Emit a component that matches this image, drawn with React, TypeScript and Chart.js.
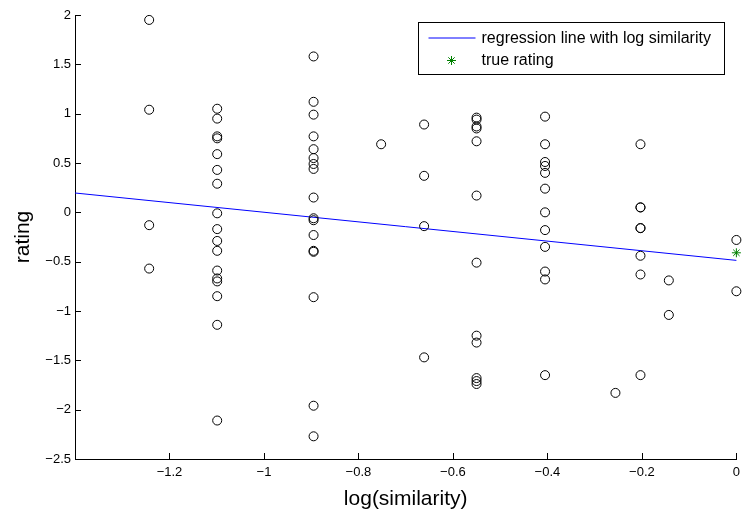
import { useEffect, useRef } from 'react';
import { Chart, registerables } from 'chart.js';

Chart.register(...registerables);

const FONT = '"Liberation Sans", Arial, Helvetica, sans-serif';

// log(similarity) levels (x) and the ratings observed at each level (y)
const LOG_SIM = [-1.243, -1.099, -0.895, -0.752, -0.661, -0.55, -0.405, -0.256, -0.203, -0.143, 0];
const RATINGS_1 = [1.95, 1.04, -0.13, -0.57];
const RATINGS_2 = [1.05, 0.95, 0.77, 0.75, 0.59, 0.43, 0.29, -0.01, -0.17, -0.29, -0.39, -0.59, -0.67, -0.7, -0.85, -1.14, -2.11];
const RATINGS_3 = [1.58, 1.12, 0.99, 0.77, 0.64, 0.55, 0.49, 0.44, 0.15, -0.06, -0.08, -0.23, -0.39, -0.4, -0.86, -1.96, -2.27];
const RATINGS_4 = [0.69];
const RATINGS_5 = [0.89, 0.37, -0.14, -1.47];
const RATINGS_6 = [0.96, 0.94, 0.87, 0.85, 0.72, 0.17, -0.51, -1.25, -1.32, -1.68, -1.71, -1.74];
const RATINGS_7 = [0.97, 0.69, 0.51, 0.47, 0.4, 0.24, 0.0, -0.18, -0.35, -0.6, -0.68, -1.65];
const RATINGS_8 = [-1.83];
const RATINGS_9 = [0.69, 0.05, 0.05, -0.16, -0.16, -0.44, -0.63, -1.65];
const RATINGS_10 = [-0.69, -1.04];
const RATINGS_11 = [-0.28, -0.8];
const RATINGS = [RATINGS_1, RATINGS_2, RATINGS_3, RATINGS_4, RATINGS_5, RATINGS_6, RATINGS_7, RATINGS_8, RATINGS_9, RATINGS_10, RATINGS_11];

const REG_X = [-1.4, 0];
const REG_Y = [0.196, -0.487];
const TRUE_X = [0];
const TRUE_Y = [-0.41];

const X_TICKS = [-1.2, -1, -0.8, -0.6, -0.4, -0.2, 0];
const Y_TICKS = [-2.5, -2, -1.5, -1, -0.5, 0, 0.5, 1, 1.5, 2];
const LEGEND_LABELS = ['regression line with log similarity', 'true rating'];

const fmt = (v: number) => {
  const r = Math.round(v * 10) / 10;
  return (r < 0 ? '\u2212' : '') + String(Math.abs(r));
};

const matlabPlugin = {
  id: 'matlabDecor',
  afterDraw(chart: any) {
    const { ctx, chartArea: a, scales } = chart;
    const x = scales.x;
    const y = scales.y;
    ctx.save();
    ctx.strokeStyle = '#000';
    ctx.lineWidth = 1;
    ctx.beginPath();
    X_TICKS.forEach((v) => {
      const px = Math.round(x.getPixelForValue(v)) + 0.5;
      ctx.moveTo(px, a.bottom);
      ctx.lineTo(px, a.bottom - 6);
    });
    Y_TICKS.forEach((v) => {
      const py = Math.round(y.getPixelForValue(v)) + 0.5;
      ctx.moveTo(a.left, py);
      ctx.lineTo(a.left + 6, py);
    });
    ctx.stroke();

    // legend
    ctx.font = '16px ' + FONT;
    const tw = Math.max(...LEGEND_LABELS.map((t) => ctx.measureText(t).width));
    const w = Math.round(63 + tw + 14);
    const h = 52;
    const right = Math.round(a.right - 12);
    const left = right - w + 0.5;
    const top = Math.round(a.top + 7) + 0.5;
    ctx.fillStyle = '#fff';
    ctx.fillRect(left, top, w, h);
    ctx.strokeStyle = '#000';
    ctx.strokeRect(left, top, w, h);
    ctx.strokeStyle = '#0000ff';
    ctx.beginPath();
    ctx.moveTo(left + 10, top + 15.5);
    ctx.lineTo(left + 57, top + 15.5);
    ctx.stroke();
    const sx = left + 33;
    const sy = top + 38;
    const r = 4.5;
    const d = r * Math.SQRT1_2;
    ctx.strokeStyle = '#008000';
    ctx.beginPath();
    ctx.moveTo(sx - r, sy); ctx.lineTo(sx + r, sy);
    ctx.moveTo(sx, sy - r); ctx.lineTo(sx, sy + r);
    ctx.moveTo(sx - d, sy - d); ctx.lineTo(sx + d, sy + d);
    ctx.moveTo(sx - d, sy + d); ctx.lineTo(sx + d, sy - d);
    ctx.stroke();
    ctx.fillStyle = '#000';
    ctx.textAlign = 'left';
    ctx.textBaseline = 'middle';
    ctx.fillText(LEGEND_LABELS[0], left + 63, top + 16);
    ctx.fillText(LEGEND_LABELS[1], left + 63, top + 38);
    ctx.restore();
  },
};

export default function App() {
  const canvasRef = useRef<HTMLCanvasElement | null>(null);

  useEffect(() => {
    if (!canvasRef.current) return;
    const points = LOG_SIM.flatMap((xv, i) => RATINGS[i].map((yv) => ({ x: xv, y: yv })));
    const regression = REG_X.map((xv, i) => ({ x: xv, y: REG_Y[i] }));
    const truth = TRUE_X.map((xv, i) => ({ x: xv, y: TRUE_Y[i] }));

    const chart = new Chart(canvasRef.current, {
      type: 'scatter',
      data: {
        datasets: [
          {
            label: 'ratings',
            data: points,
            pointStyle: 'circle',
            pointRadius: 4.5,
            pointBorderWidth: 1,
            pointBorderColor: '#000',
            pointBackgroundColor: 'rgba(0,0,0,0)',
            clip: false,
          } as any,
          {
            type: 'line',
            label: LEGEND_LABELS[0],
            data: regression,
            borderColor: '#0000ff',
            borderWidth: 1,
            pointRadius: 0,
            fill: false,
            clip: false,
          } as any,
          {
            label: LEGEND_LABELS[1],
            data: truth,
            pointStyle: 'star',
            pointRadius: 4.5,
            pointBorderWidth: 1,
            pointBorderColor: '#008000',
            pointBackgroundColor: '#008000',
            clip: false,
          } as any,
        ],
      },
      options: {
        responsive: false,
        animation: false,
        events: [],
        layout: { padding: { top: 15, right: 8, left: 0, bottom: 0 } },
        plugins: { legend: { display: false }, tooltip: { enabled: false } },
        scales: {
          x: {
            type: 'linear',
            min: -1.4,
            max: 0,
            afterBuildTicks: (s: any) => {
              s.ticks = X_TICKS.map((value) => ({ value }));
            },
            afterFit: (s: any) => {
              s.height = 54;
            },
            ticks: {
              callback: (v: any) => fmt(Number(v)),
              font: { size: 13, family: FONT },
              color: '#000',
              padding: 6,
              maxRotation: 0,
              autoSkip: false,
            },
            grid: { display: false, drawTicks: false },
            border: { display: true, color: '#000', width: 1 },
            title: {
              display: true,
              text: 'log(similarity)',
              font: { size: 21, family: FONT },
              color: '#000',
              padding: { top: 0, bottom: 1 },
            },
          },
          y: {
            type: 'linear',
            min: -2.5,
            max: 2,
            afterBuildTicks: (s: any) => {
              s.ticks = Y_TICKS.map((value) => ({ value }));
            },
            afterFit: (s: any) => {
              s.width = 75;
            },
            ticks: {
              callback: (v: any) => fmt(Number(v)),
              font: { size: 13, family: FONT },
              color: '#000',
              padding: 4,
              autoSkip: false,
            },
            grid: { display: false, drawTicks: false },
            border: { display: true, color: '#000', width: 1 },
            title: {
              display: true,
              text: 'rating',
              font: { size: 21, family: FONT },
              color: '#000',
              padding: { top: 11, bottom: 0 },
            },
          },
        },
      },
      plugins: [matlabPlugin],
    });
    return () => chart.destroy();
  }, []);

  return (
    <div style={{ position: 'absolute', left: 0, top: 0, width: 746, height: 513, background: '#fff' }}>
      <canvas ref={canvasRef} width={746} height={513} style={{ display: 'block' }} />
    </div>
  );
}
